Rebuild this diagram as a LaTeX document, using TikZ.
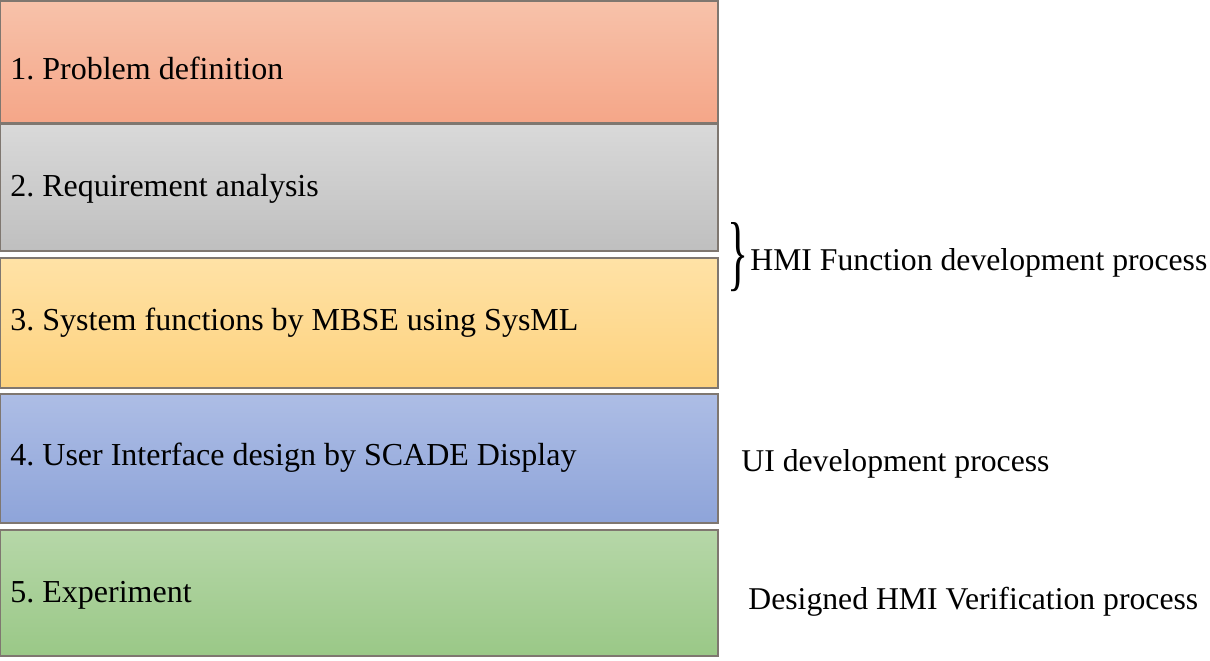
\documentclass[tikz,border=0pt]{standalone}
\usepackage{fontspec}
\setmainfont{Liberation Serif}
\frenchspacing
\definecolor{r1t}{HTML}{F7C2AA}\definecolor{r1b}{HTML}{F5A688}
\definecolor{g2t}{HTML}{D9D9D9}\definecolor{g2b}{HTML}{BFBFBF}
\definecolor{y3t}{HTML}{FFE2A6}\definecolor{y3b}{HTML}{FDD27E}
\definecolor{b4t}{HTML}{ADBDE5}\definecolor{b4b}{HTML}{8EA4D9}
\definecolor{v5t}{HTML}{B6D7A8}\definecolor{v5b}{HTML}{9AC887}
\definecolor{edge}{HTML}{7F7770}
\tikzset{
  stagebox/.style={draw=edge, line width=1pt, rectangle, anchor=north west, minimum width=359pt, inner sep=0pt, outer sep=0pt},
  stagetext/.style={anchor=west, inner sep=0pt, font=\fontsize{16}{19}\selectfont},
  sidetext/.style={anchor=west, inner sep=0pt, font=\fontsize{15.85}{19}\selectfont}
}
\begin{document}
\begin{tikzpicture}[x=0.5pt,y=-0.5pt]
\useasboundingbox (0,0) rectangle (1210,660);
\node[stagebox, minimum height=61pt, top color=r1t, bottom color=r1b] (b1) at (0,1) {};
\node[stagebox, minimum height=63.5pt, top color=g2t, bottom color=g2b] (b2) at (0,124) {};
\node[stagebox, minimum height=65pt, top color=y3t, bottom color=y3b] (b3) at (0,258) {};
\node[stagebox, minimum height=64.5pt, top color=b4t, bottom color=b4b] (b4) at (0,394) {};
\node[stagebox, minimum height=63pt, top color=v5t, bottom color=v5b] (b5) at (0,530) {};
\node[stagetext] (t1) at (10,68) {1. Problem definition};
\node[stagetext] (t2) at (10,189) {2. Requirement analysis};
\node[stagetext] (t3) at (10,323) {3. System functions by MBSE using SysML};
\node[stagetext] (t4) at (10,458) {4. User Interface design by SCADE Display};
\node[stagetext] (t5) at (10,595) {5. Experiment};
\node[inner sep=0pt, anchor=west] (br) at (727,257) {\scalebox{1}[1.9]{\fontsize{22}{22}\selectfont\}}};
\node[sidetext] (s1) at (750,263) {HMI Function development process};
\node[sidetext] (s2) at (741,464) {UI development process};
\node[sidetext] (s3) at (748,602) {Designed HMI Verification process};
\end{tikzpicture}
\end{document}
